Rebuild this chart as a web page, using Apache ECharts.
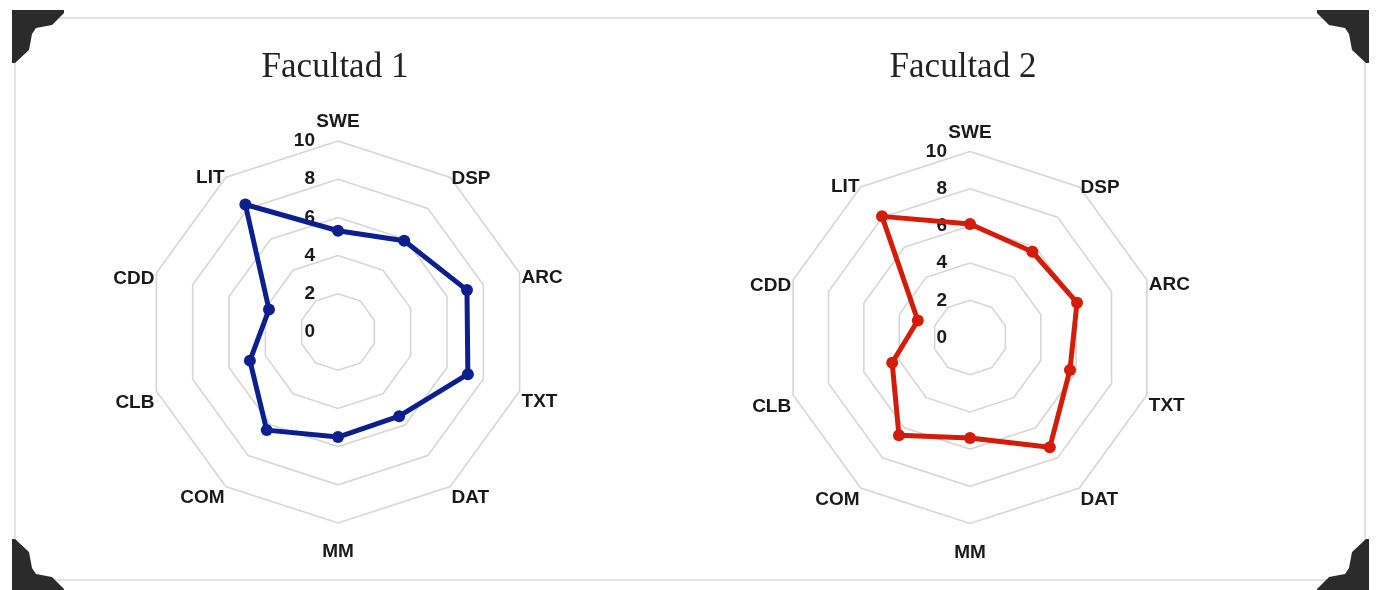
<!DOCTYPE html>
<html>
<head>
<meta charset="utf-8">
<script src="https://cdn.jsdelivr.net/npm/echarts@6/dist/echarts.min.js"></script>
<style>
html,body{margin:0;padding:0;background:#fff;}
#chart{width:1381px;height:590px;}
</style>
</head>
<body>
<div id="chart"></div>
<script>
const categories = ['SWE','DSP','ARC','TXT','DAT','MM','COM','CLB','CDD','LIT'];
const titles = ['Facultad 1','Facultad 2'];
const facultad1 = [5.3, 5.9, 7.1, 7.15, 5.45, 5.5, 6.35, 4.85, 3.8, 8.25];
const facultad2 = [6.1, 5.7, 6.05, 5.65, 7.3, 5.4, 6.5, 4.4, 2.95, 8.05];
const axisMin = 0, axisMax = 10, ringCount = 5;

// ECharts lays radar indicators counter-clockwise; reorder so they run clockwise like the reference
const order = [0].concat(categories.map(function(_, i){return i;}).slice(1).reverse());
function reorder(arr){ return order.map(function(i){return arr[i];}); }

// vertical nudge of each axis name (via leading blank line height), purely stylistic
const nameNudge = {SWE:19, DSP:5, ARC:11, TXT:20, DAT:20, MM:18, COM:20, CLB:23, CDD:12, LIT:3};

const chart = echarts.init(document.getElementById('chart'), null, {renderer:'canvas'});

function indicators(){
  return reorder(categories).map(function(c, i){
    const o = {name: c, min: axisMin, max: axisMax, nameTextStyle: {lineHeight: nameNudge[c]}};
    if (i === 0) {
      o.axisLabel = {show: true, showMinLabel: true, showMaxLabel: true};
    }
    return o;
  });
}

const labelFont = {fontFamily:'Liberation Sans', fontWeight:'bold', fontSize:19, color:'#1a1a1a'};

function radarCfg(center, radius){
  return {
    center: center,
    radius: radius,
    startAngle: 90,
    shape: 'polygon',
    splitNumber: ringCount,
    indicator: indicators(),
    axisName: Object.assign({formatter: function(n){ return '\n' + n; }}, labelFont),
    nameGap: 2,
    axisLine: {show:false},
    axisTick: {show:false},
    splitArea: {show:false},
    splitLine: {lineStyle:{color:'#d6d6d4', width:1.6}},
    axisLabel: Object.assign({show:false, margin:23}, labelFont)
  };
}

function corner(x, y, sx, sy){
  const pts = [[0,0],[52,0],[52,3],[40,15],[24,18],[20,24],[17,40],[3,53],[0,53]];
  return {
    type:'polygon',
    shape:{points: pts.map(function(p){return [x + sx*p[0], y + sy*p[1]];})},
    style:{fill:'#2b2b2b'},
    z: 10
  };
}

const option = {
  backgroundColor:'#ffffff',
  animation:false,
  title: [
    {text: titles[0], left: 330, top: 45, textAlign:'center',
     textStyle:{fontFamily:'Liberation Serif', fontWeight:'normal', fontSize:35, color:'#222'}},
    {text: titles[1], left: 958, top: 45, textAlign:'center',
     textStyle:{fontFamily:'Liberation Serif', fontWeight:'normal', fontSize:35, color:'#222'}}
  ],
  graphic: [
    {type:'rect', shape:{x:15, y:18, width:1350, height:562},
     style:{fill:'none', stroke:'#e2e2e2', lineWidth:2}, z:1},
    corner(12, 10, 1, 1),
    corner(1369, 10, -1, 1),
    corner(12, 592, 1, -1),
    corner(1369, 592, -1, -1)
  ],
  radar: [
    radarCfg([338, 332], 191),
    radarCfg([970, 337.5], 186)
  ],
  series: [
    {type:'radar', radarIndex:0, symbol:'circle', symbolSize:12,
     lineStyle:{color:'#0b1f8f', width:5},
     itemStyle:{color:'#0b1f8f'},
     data:[{value: reorder(facultad1), name: titles[0]}]},
    {type:'radar', radarIndex:1, symbol:'circle', symbolSize:12,
     lineStyle:{color:'#d41c0a', width:5},
     itemStyle:{color:'#d41c0a'},
     data:[{value: reorder(facultad2), name: titles[1]}]}
  ]
};
chart.setOption(option);
</script>
</body>
</html>
